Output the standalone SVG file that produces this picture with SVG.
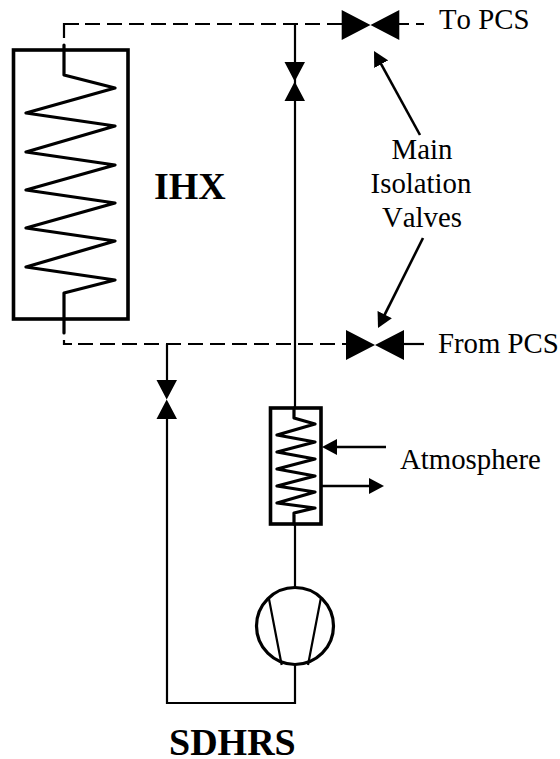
<svg xmlns="http://www.w3.org/2000/svg" width="560" height="759" viewBox="0 0 560 759">
<style>
text{font-kerning:none}
.t{font-family:"Liberation Serif","Times New Roman",serif;font-size:28.8px;fill:#000}
.b{font-family:"Liberation Serif","Times New Roman",serif;font-size:38px;font-weight:bold;fill:#000}
.p{fill:none;stroke:#000;stroke-width:2.2;stroke-linejoin:miter}
.d{fill:none;stroke:#000;stroke-width:2.2;stroke-dasharray:15 7}
.h{fill:none;stroke:#000;stroke-width:3.6}
.z{fill:none;stroke:#000;stroke-width:3.2;stroke-linejoin:round;stroke-linecap:round}
.a{fill:none;stroke:#000;stroke-width:2.6;marker-end:url(#arr)}
.v{fill:#000;stroke:none}
</style>
<defs>
<marker id="arr" markerUnits="userSpaceOnUse" markerWidth="16" markerHeight="16" refX="9" refY="8" orient="auto"><path d="M0 0L15 8L0 16Z" fill="#000"/></marker>
</defs>
<g id="connectors">
<path class="p" d="M64 38V24H79"/>
<path class="d" d="M85 24H342"/>
<path class="p" d="M399 24H409M416 24H424"/>
<path class="p" d="M64 340V344H72"/>
<path class="d" d="M78 344H346"/>
<path class="p" d="M404 344H424"/>
<path class="p" d="M295 24V408"/>
<path class="p" d="M167 344V380"/>
<path class="p" d="M167 419V703H295V665"/>
<path class="p" d="M295 524V587"/>
<path class="a" d="M386 447H328"/>
<path class="a" d="M322 486H378"/>
<path class="a" d="M420 135L376.900 56.300"/>
<path class="a" d="M423 238L380.700 322.600"/>
</g>
<g id="ihx">
<rect class="h" x="13.500" y="50" width="114.500" height="269"/>
<path class="z" d="M64 45V75L115 88L26 113L115 126L26 152L115 165L26 190L115 203L26 228L115 241L26 267L115 280L64 293V333"/>
<text class="b" x="154" y="199">IHX</text>
</g>
<g id="valve-to-pcs"><path class="v" d="M341.700 10L370.500 25L399.300 10V40L370.500 25L341.700 40Z"/><text class="t" x="439" y="29">To PCS</text></g>
<g id="valve-from-pcs"><path class="v" d="M346 330L375 345L404 330V360L375 345L346 360Z"/><text class="t" x="438" y="353">From PCS</text></g>
<g id="valve-upper"><path class="v" d="M284.500 62H305L294.700 81.500L305 101H284.500L294.700 81.500Z"/></g>
<g id="valve-lower"><path class="v" d="M156.500 380H177L166.700 399.500L177 419H156.500L166.700 399.500Z"/></g>
<g id="label-miv">
<text class="t" x="422" y="159" text-anchor="middle">Main</text>
<text class="t" x="421" y="193" text-anchor="middle">Isolation</text>
<text class="t" x="422" y="227" text-anchor="middle">Valves</text>
</g>
<g id="cooler">
<rect class="h" x="270.500" y="408" width="50.500" height="116"/>
<path class="z" d="M294 408V418L315 424L277 435L315 442L277 452L315 459L277 469L315 476L277 486L315 492L277 503L315 508L294 513V524"/>
<text class="t" x="400" y="469">Atmosphere</text>
</g>
<g id="pump">
<circle cx="295" cy="626" r="38.500" fill="none" stroke="#000" stroke-width="3.200"/>
<path class="p" d="M269 599L281.700 665M320.700 599L308 665"/>
</g>
<g id="label-sdhrs"><text class="b" x="169" y="755">SDHRS</text></g>
</svg>
